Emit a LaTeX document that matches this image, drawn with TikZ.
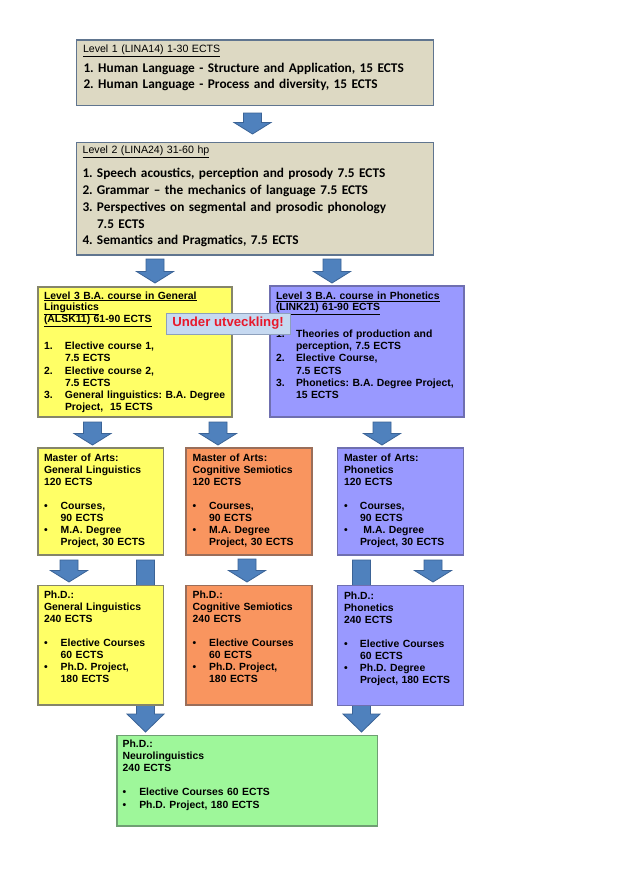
\documentclass[tikz,border=0pt]{standalone}
\usepackage{fontspec}
\setmainfont{Liberation Sans}
\newfontfamily\carl{Carlito}
\usetikzlibrary{calc,backgrounds}
\definecolor{beige}{HTML}{DDD9C3}
\definecolor{beigeD}{HTML}{60758F}
\definecolor{yel}{HTML}{FFFF66}
\definecolor{yelD}{HTML}{85856A}
\definecolor{ora}{HTML}{F9955F}
\definecolor{oraD}{HTML}{9A6E5A}
\definecolor{pur}{HTML}{9999FF}
\definecolor{purD}{HTML}{6F6FB0}
\definecolor{grn}{HTML}{9EF79A}
\definecolor{grnD}{HTML}{6F9F73}
\definecolor{calF}{HTML}{C6D9F1}
\definecolor{calD}{HTML}{8DA0BC}
\definecolor{calT}{HTML}{E8182B}
\definecolor{arrF}{HTML}{4F81BD}
\definecolor{arrD}{HTML}{3B6396}
\newcommand{\ind}[2]{\makebox[#1][l]{#2}}
\frenchspacing
\begin{document}
\begin{tikzpicture}[x=1pt,y=-1pt,
  bx/.style={draw=#1, line width=1.1pt, anchor=north west, inner sep=0pt, outer sep=0pt},
  txt/.style={anchor=base west, inner sep=0pt, outer sep=0pt, text width=420pt, align=left},
  hd/.style={font=\fontsize{10.6}{12}\selectfont},
  big/.style={font=\carl\bfseries\fontsize{13.3}{#1}\selectfont},
  ar/.style={font=\bfseries\fontsize{10.4}{#1}\selectfont},
  barrow/.style={fill=arrF, draw=arrD, line width=0.8pt,
    to path={let \p1=(\tikztostart), \p2=(\tikztotarget) in
      (\x1-9pt,\y1) -- (\x1+9pt,\y1) -- (\x1+9pt,\y2+#1) -- (\x1+18.5pt,\y2+#1)
      -- (\x1,\y2) -- (\x1-18.5pt,\y2+#1) -- (\x1-9pt,\y2+#1) -- cycle}},
  barrow/.default=11.5pt]
\useasboundingbox (0,0) rectangle (630,891);
\begin{scope}[on background layer]
\fill[white] (0,0) rectangle (630,891);
\end{scope}

% boxes
\node[bx=beigeD, fill=beige, minimum width=357, minimum height=65.5] (L1) at (76.5,40) {};
\node[bx=beigeD, fill=beige, minimum width=357, minimum height=112.5] (L2) at (76.5,142.5) {};
\node[bx=yelD, fill=yel, minimum width=194, minimum height=130] (L3a) at (38,287) {};
\node[bx=purD, fill=pur, minimum width=194, minimum height=131] (L3b) at (270,286) {};
\node[bx=yelD, fill=yel, minimum width=125.5, minimum height=107] (MA1) at (38,448) {};
\node[bx=oraD, fill=ora, minimum width=126, minimum height=107] (MA2) at (186,448) {};
\node[bx=purD, fill=pur, minimum width=126, minimum height=107] (MA3) at (337.5,448) {};
\node[bx=yelD, fill=yel, minimum width=125.5, minimum height=119.5] (P1) at (38,585.5) {};
\node[bx=oraD, fill=ora, minimum width=126, minimum height=119.5] (P2) at (186,585.5) {};
\node[bx=purD, fill=pur, minimum width=126, minimum height=120] (P3) at (337.5,585.5) {};
\node[bx=grnD, fill=grn, minimum width=260.5, minimum height=90.5] (N) at (117,735.5) {};

% texts
\node[txt, hd] (L1h) at (83,52.3) {\underline{Level 1 (LINA14) 1-30 ECTS}};
\node[txt, big=16.3] (L1i) at (83.5,72.7) {1. Human Language - Structure and Application, 15 ECTS\\
2. Human Language - Process and diversity, 15 ECTS};

\node[txt, hd] (L2h) at (82.7,153.3) {\underline{Level 2 (LINA24) 31-60 hp}};
\node[txt, big=16.8] (L2i) at (82.5,177.7) {\ind{14.5pt}{1.}Speech acoustics, perception and prosody 7.5 ECTS\\
\ind{14.5pt}{2.}Grammar – the mechanics of language 7.5 ECTS\\
\ind{14.5pt}{3.}Perspectives on segmental and prosodic phonology\\
\ind{14.5pt}{}7.5 ECTS\\
\ind{14.5pt}{4.}Semantics and Pragmatics, 7.5 ECTS};

\node[txt, ar=11.2] (L3ah) at (44,299) {\underline{Level 3 B.A. course in General}\\
\underline{Linguistics}\\
\underline{(ALSK11) 61-90 ECTS}};
\node[txt, ar=12.2] (L3ai) at (44,349.7) {\ind{21pt}{1.}Elective course 1,\\
\ind{21pt}{}7.5 ECTS\\
\ind{21pt}{2.}Elective course 2,\\
\ind{21pt}{}7.5 ECTS\\
\ind{21pt}{3.}General linguistics: B.A. Degree\\
\ind{21pt}{}Project,\ \ 15 ECTS};

\node[txt, ar=11.2] (L3bh) at (276,299.5) {\underline{Level 3 B.A. course in Phonetics}\\
\underline{(LINK21) 61-90 ECTS}};
\node[txt, ar=12.2] (L3bi) at (276,337.5) {\ind{20pt}{1.}Theories of production and\\
\ind{20pt}{}perception, 7.5 ECTS\\
\ind{20pt}{2.}Elective Course,\\
\ind{20pt}{}7.5 ECTS\\
\ind{20pt}{3.}Phonetics: B.A. Degree Project,\\
\ind{20pt}{}15 ECTS};

\node[txt, ar=12] (MA1t) at (44,461.5) {Master of Arts:\\General Linguistics\\120 ECTS\\[12pt]
\ind{16.7pt}{•}Courses,\\\ind{16.7pt}{}90 ECTS\\\ind{16.7pt}{•}M.A. Degree\\\ind{16.7pt}{}Project, 30 ECTS};
\node[txt, ar=12] (MA2t) at (192.7,461.5) {Master of Arts:\\Cognitive Semiotics\\120 ECTS\\[12pt]
\ind{16.5pt}{•}Courses,\\\ind{16.5pt}{}90 ECTS\\\ind{16.5pt}{•}M.A. Degree\\\ind{16.5pt}{}Project, 30 ECTS};
\node[txt, ar=12] (MA3t) at (344,461.5) {Master of Arts:\\Phonetics\\120 ECTS\\[12pt]
\ind{16pt}{•}Courses,\\\ind{16pt}{}90 ECTS\\\ind{16pt}{•}\ M.A. Degree\\\ind{16pt}{}Project, 30 ECTS};

\node[txt, ar=12] (P1t) at (44,598.7) {Ph.D.:\\General Linguistics\\240 ECTS\\[12pt]
\ind{16.7pt}{•}Elective Courses\\\ind{16.7pt}{}60 ECTS\\\ind{16.7pt}{•}Ph.D. Project,\\\ind{16.7pt}{}180 ECTS};
\node[txt, ar=12] (P2t) at (192.7,598.7) {Ph.D.:\\Cognitive Semiotics\\240 ECTS\\[12pt]
\ind{16.5pt}{•}Elective Courses\\\ind{16.5pt}{}60 ECTS\\\ind{16.5pt}{•}Ph.D. Project,\\\ind{16.5pt}{}180 ECTS};
\node[txt, ar=12] (P3t) at (344,599.5) {Ph.D.:\\Phonetics\\240 ECTS\\[12pt]
\ind{16pt}{•}Elective Courses\\\ind{16pt}{}60 ECTS\\\ind{16pt}{•}Ph.D. Degree\\\ind{16pt}{}Project, 180 ECTS};

\node[txt, ar=12.2] (Nt) at (122.7,747) {Ph.D.:\\Neurolinguistics\\240 ECTS\\[12.2pt]
\ind{16.6pt}{•}Elective Courses 60 ECTS\\\ind{16.6pt}{•}Ph.D. Project, 180 ECTS};

% callout
\node[draw=calD, fill=calF, line width=0.8pt, minimum width=124, minimum height=21,
  anchor=north west, inner sep=0pt, outer sep=0pt, text=calT,
  font=\bfseries\fontsize{13.2}{14}\selectfont] (UU) at (166,313) {Under utveckling!};

% block arrows
\draw[barrow] ([shift={(176,7.5)}]L1.south west) to ([shift={(176,-8.5)}]L2.north west);
\draw[barrow] ([shift={(78.5,4)}]L2.south west) to ([shift={(117,-4)}]L3a.north west);
\draw[barrow] ([shift={(255.5,4)}]L2.south west) to ([shift={(62,-3)}]L3b.north west);
\draw[barrow] ([shift={(54.5,5)}]L3a.south west) to ([shift={(54.5,-3)}]MA1.north west);
\draw[barrow] ([shift={(180,5)}]L3a.south west) to ([shift={(32,-3)}]MA2.north west);
\draw[barrow] ([shift={(112,5)}]L3b.south west) to ([shift={(44.5,-3)}]MA3.north west);
\draw[barrow] ([shift={(31,5)}]MA1.south west) to ([shift={(31,-3.5)}]P1.north west);
\draw[barrow] ([shift={(61,4)}]MA2.south west) to ([shift={(61,-3.5)}]P2.north west);
\draw[barrow] ([shift={(95.5,5)}]MA3.south west) to ([shift={(95.5,-3.5)}]P3.north west);
\begin{scope}[on background layer]
\draw[barrow=18pt] ([shift={(107.5,5)}]MA1.south west) to ([shift={(28.5,-3.5)}]N.north west);
\draw[barrow=18pt] ([shift={(24,5)}]MA3.south west) to ([shift={(244.5,-3.5)}]N.north west);
\end{scope}
\end{tikzpicture}
\end{document}
